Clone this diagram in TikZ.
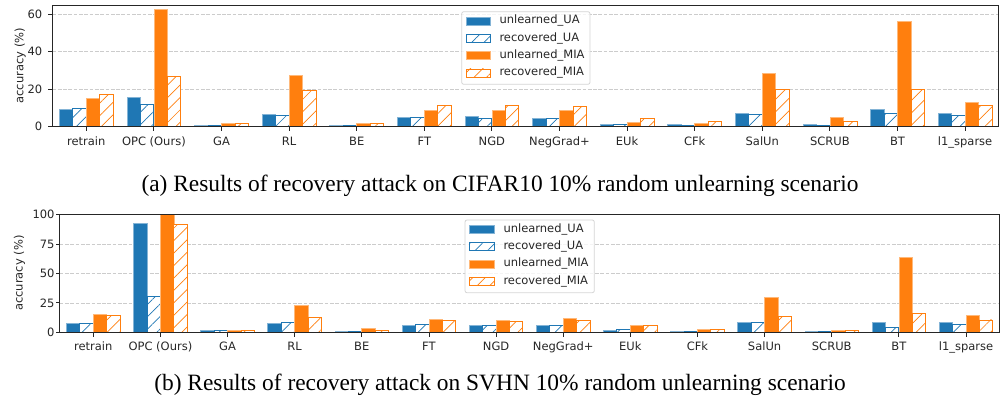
\documentclass[tikz,border=0pt]{standalone}
\usepackage{fontspec}
\setmainfont{DejaVu Sans}
\newfontfamily\capfont{Liberation Serif}
\usetikzlibrary{patterns.meta}

\definecolor{tabblue}{HTML}{1F77B4}
\definecolor{taborange}{HTML}{FF7F0E}
\definecolor{gridgray}{HTML}{CCCCCC}
\definecolor{legedge}{HTML}{D5D5D5}

\tikzset{
  lbl/.style={font=\fontsize{11.5}{13}\selectfont, inner sep=0pt, text=black!85},
  solidUA/.style={fill=tabblue, draw=tabblue!55!white, line width=0.7pt},
  solidMIA/.style={fill=taborange, draw=taborange!55!white, line width=0.7pt},
  hatchUA/.style={preaction={fill=white},
    pattern={Lines[angle=45,distance=8.8pt,line width=0.7pt]},
    pattern color=tabblue, draw=tabblue, line width=0.9pt},
  hatchMIA/.style={preaction={fill=white},
    pattern={Lines[angle=45,distance=8.8pt,line width=0.7pt]},
    pattern color=taborange, draw=taborange, line width=0.9pt},
  gridline/.style={draw=gridgray, dash pattern=on 3.7pt off 1.6pt, line width=0.8pt},
  spine/.style={draw=black!85, line width=0.9pt},
  tickmark/.style={draw=black!85, line width=0.9pt},
  legendbox/.style={draw=legedge, fill=white, fill opacity=0.8, rounded corners=2pt, line width=0.8pt},
  captiontext/.style={font=\capfont\fontsize{23.4}{27}\selectfont, inner sep=0pt, anchor=base}
}

% four bars of one method: unlearned/recovered UA, unlearned/recovered MIA
\newcommand\groupbars[5]{%
  \path[solidUA]  (#1-0.4,0) rectangle (#1-0.2,#2);
  \path[hatchUA]  (#1-0.2,0) rectangle (#1,#3);
  \path[solidMIA] (#1,0) rectangle (#1+0.2,#4);
  \path[hatchMIA] (#1+0.2,0) rectangle (#1+0.4,#5);}

\newcommand\methodlist{0/retrain,1/OPC (Ours),2/GA,3/RL,4/BE,5/FT,6/NGD,7/NegGrad+,8/EUk,9/CFk,10/SalUn,11/SCRUB,12/BT,13/l1\_sparse}

\begin{document}
\begin{tikzpicture}[x=1pt,y=1pt]
\useasboundingbox (0,0) rectangle (1000,402);

% ---------------- (a) CIFAR10 ----------------
\begin{scope}[shift={(86.3pt,275.3pt)}, x=67.6pt, y=1.875pt]
  \foreach \v in {0,20,40,60} \draw[gridline] (-0.5,\v) -- (13.5,\v);
  \foreach \i/\a/\b/\c/\d in {
    0/9.4/9.8/15.1/17.2, 1/15.8/12.1/62.7/27.0, 2/0.7/0.7/1.8/1.8,
    3/6.8/6.0/27.2/19.4, 4/0.9/0.9/1.9/1.9, 5/5.1/4.8/8.5/11.5,
    6/5.3/4.6/8.5/11.5, 7/4.6/4.2/8.5/11.0, 8/1.4/1.4/2.1/4.6,
    9/1.1/0.9/2.0/3.0, 10/6.9/6.4/28.3/20.1, 11/1.1/0.9/5.2/2.7,
    12/9.1/7.1/56.2/19.6, 13/7.3/5.9/13.2/11.2}
    {\groupbars{\i}{\a}{\b}{\c}{\d}}
  \draw[spine] (-0.5,0) rectangle (13.5,64.9);
  \foreach \v in {0,20,40,60} {
    \draw[tickmark] (-0.5,\v) -- ++(-4.5pt,0);
    \node[lbl, anchor=east] (ya\v) at ([xshift=-10pt]-0.5,\v) {\v};
  }
  \foreach \i/\t in \methodlist {
    \draw[tickmark] (\i,0) -- ++(0,-4.5pt);
    \node[lbl, anchor=base] (xa\i) at ([yshift=-19.3pt]\i,0) {\t};
  }
  \node[lbl, rotate=90] (yla) at ([xshift=-32.3pt]-0.5,32.5) {accuracy (\%)};
\end{scope}

% legend (a)
\path[legendbox] (461.7,390.3) rectangle (590,317.7);
\path[solidUA]  (466,377) rectangle (490,385);
\path[hatchUA]  (466,359.7) rectangle (490,367.7);
\path[solidMIA] (466,342.3) rectangle (490,350.3);
\path[hatchMIA] (466,325) rectangle (490,333);
\node[lbl, anchor=mid west] (la1) at (499.3,381) {unlearned\_UA};
\node[lbl, anchor=mid west] (la2) at (499.3,363.7) {recovered\_UA};
\node[lbl, anchor=mid west] (la3) at (499.3,346.3) {unlearned\_MIA};
\node[lbl, anchor=mid west] (la4) at (499.3,329) {recovered\_MIA};

\node[captiontext] (capa) at (500,211) {(a) Results of recovery attack on CIFAR10 10\% random unlearning scenario};

% ---------------- (b) SVHN ----------------
\begin{scope}[shift={(93.3pt,69.7pt)}, x=67.13pt, y=1.176pt]
  \foreach \v in {0,25,50,75,100} \draw[gridline] (-0.5,\v) -- (13.5,\v);
  \foreach \i/\a/\b/\c/\d in {
    0/7.4/7.4/15.6/14.5, 1/92.9/30.4/100/91.5, 2/1.4/1.4/1.7/1.7,
    3/8.0/8.0/23.0/12.8, 4/1.1/1.1/3.4/1.7, 5/6.0/6.5/11.1/10.2,
    6/5.7/5.7/10.2/9.4, 7/6.0/5.7/11.9/10.2, 8/2.0/2.3/6.3/6.0,
    9/0.9/0.9/2.3/2.3, 10/8.2/8.2/29.3/13.6, 11/0.9/0.9/1.4/1.4,
    12/8.5/4.3/63.6/15.9, 13/8.2/6.5/14.2/10.5}
    {\groupbars{\i}{\a}{\b}{\c}{\d}}
  \draw[spine] (-0.5,0) rectangle (13.5,100.6);
  \foreach \v in {0,25,50,75,100} {
    \draw[tickmark] (-0.5,\v) -- ++(-3.5pt,0);
    \node[lbl, anchor=east] (yb\v) at ([xshift=-5pt]-0.5,\v) {\v};
  }
  \foreach \i/\t in \methodlist {
    \draw[tickmark] (\i,0) -- ++(0,-4.5pt);
    \node[lbl, anchor=base] (xb\i) at ([yshift=-18.5pt]\i,0) {\t};
  }
  \node[lbl, rotate=90] (ylb) at ([xshift=-73.8pt]0,50.3) {accuracy (\%)};
\end{scope}

% legend (b)
\path[legendbox] (465,182) rectangle (594.3,109.3);
\path[solidUA]  (469.3,168.7) rectangle (494,176.7);
\path[hatchUA]  (469.3,151.3) rectangle (494,159.3);
\path[solidMIA] (469.3,134) rectangle (494,142);
\path[hatchMIA] (469.3,116.7) rectangle (494,124.7);
\node[lbl, anchor=mid west] (lb1) at (503.3,172.7) {unlearned\_UA};
\node[lbl, anchor=mid west] (lb2) at (503.3,155.3) {recovered\_UA};
\node[lbl, anchor=mid west] (lb3) at (503.3,138) {unlearned\_MIA};
\node[lbl, anchor=mid west] (lb4) at (503.3,120.7) {recovered\_MIA};

\node[captiontext] (capb) at (500,12) {(b) Results of recovery attack on SVHN 10\% random unlearning scenario};
\end{tikzpicture}
\end{document}
